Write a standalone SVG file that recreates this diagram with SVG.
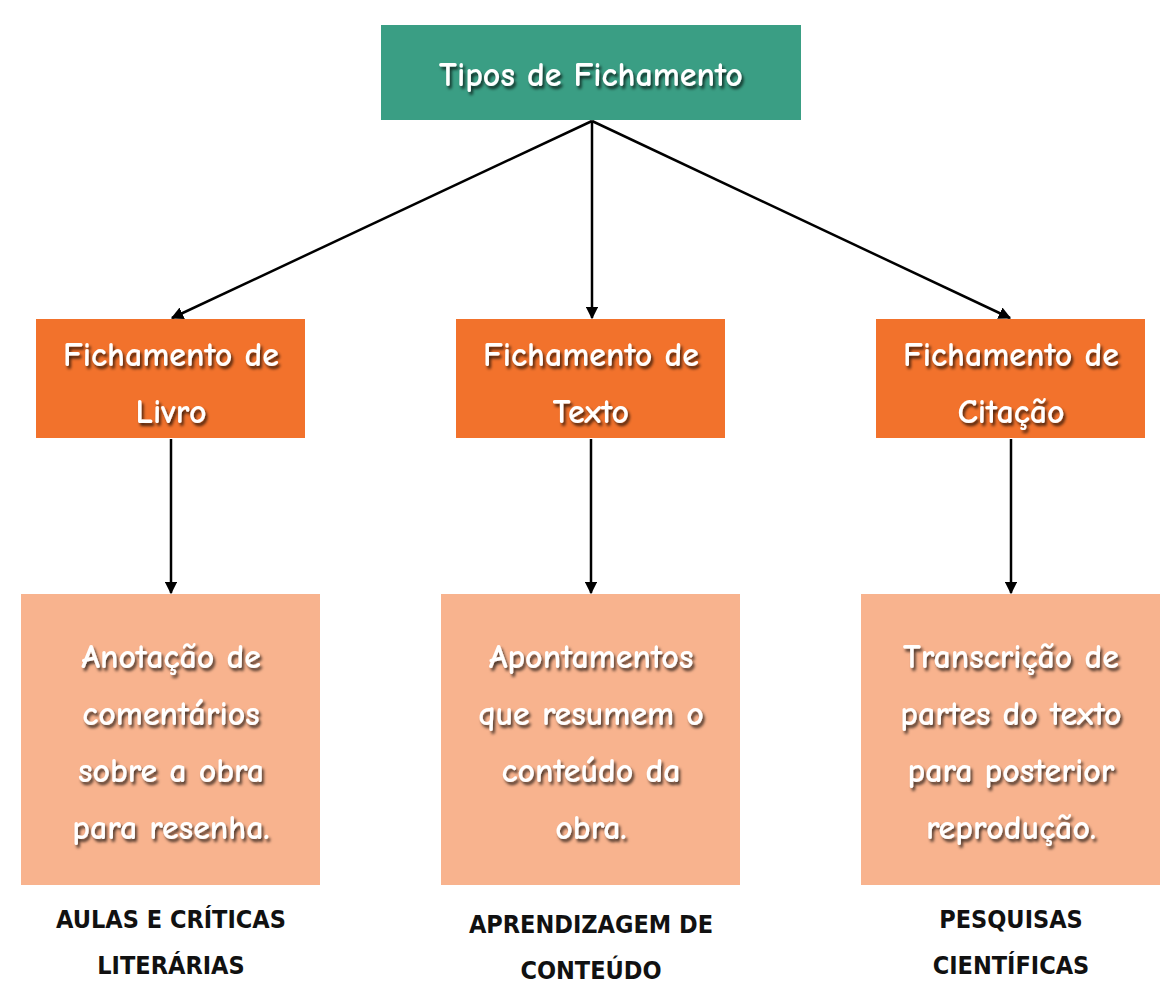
<svg xmlns="http://www.w3.org/2000/svg" width="1176" height="993" viewBox="0 0 1176 993">
<defs>
<filter id="sh" x="-10%" y="-10%" width="120%" height="130%"><feDropShadow dx="2" dy="3" stdDeviation="1.5" flood-color="#000" flood-opacity="0.7"/></filter>
<marker id="ar" viewBox="0 0 10 10" refX="9" refY="5" markerWidth="5" markerHeight="5" orient="auto"><path d="M0,0L10,5L0,10z" fill="#000"/></marker>
</defs>
<style>
.t{font-family:"Comic Neue","DejaVu Sans",sans-serif;font-weight:bold;fill:#fff;font-size:34px;text-anchor:middle;filter:url(#sh)}
.b{font-family:"DejaVu Sans",sans-serif;font-weight:bold;font-stretch:condensed;fill:#111;font-size:25px;text-anchor:middle;transform-box:fill-box}
.c{stroke:#000;stroke-width:2.5;fill:none;marker-end:url(#ar)}
</style>
<rect width="1176" height="993" fill="#fff"/>
<g id="connectors">
<line class="c" x1="592" y1="121" x2="172" y2="318"/>
<line class="c" x1="592" y1="121" x2="592" y2="318"/>
<line class="c" x1="592" y1="121" x2="1010" y2="318"/>
<line class="c" x1="171" y1="439" x2="171" y2="593"/>
<line class="c" x1="591" y1="439" x2="591" y2="593"/>
<line class="c" x1="1011" y1="439" x2="1011" y2="593"/>
</g>
<g id="root"><rect x="381" y="25" width="420" height="95" fill="#3a9e84"/><text class="t" x="591" y="86">Tipos de Fichamento</text></g>
<g id="livro"><rect x="36" y="319" width="269" height="119" fill="#f2722c"/><text class="t" x="171" y="366">Fichamento de</text><text class="t" x="171" y="423">Livro</text></g>
<g id="texto"><rect x="456" y="319" width="269" height="119" fill="#f2722c"/><text class="t" x="591" y="366">Fichamento de</text><text class="t" x="591" y="423">Texto</text></g>
<g id="citacao"><rect x="876" y="319" width="269" height="119" fill="#f2722c"/><text class="t" x="1011" y="366">Fichamento de</text><text class="t" x="1011" y="423">Citação</text></g>
<g id="d1"><rect x="21" y="594" width="299" height="291" fill="#f8b38e"/><text class="t" x="171" y="668">Anotação de</text><text class="t" x="171" y="725">comentários</text><text class="t" x="171" y="782">sobre a obra</text><text class="t" x="171" y="839">para resenha.</text></g>
<g id="d2"><rect x="441" y="594" width="299" height="291" fill="#f8b38e"/><text class="t" x="591" y="668">Apontamentos</text><text class="t" x="591" y="725">que resumem o</text><text class="t" x="591" y="782">conteúdo da</text><text class="t" x="591" y="839">obra.</text></g>
<g id="d3"><rect x="861" y="594" width="299" height="291" fill="#f8b38e"/><text class="t" x="1011" y="668">Transcrição de</text><text class="t" x="1011" y="725">partes do texto</text><text class="t" x="1011" y="782">para posterior</text><text class="t" x="1011" y="839">reprodução.</text></g>
<g id="l1"><text class="b" x="171" y="928">AULAS E CRÍTICAS</text><text class="b" x="171" y="974">LITERÁRIAS</text></g>
<g id="l2"><text class="b" x="591" y="933">APRENDIZAGEM DE</text><text class="b" x="591" y="979">CONTEÚDO</text></g>
<g id="l3"><text class="b" x="1011" y="928">PESQUISAS</text><text class="b" x="1011" y="974">CIENTÍFICAS</text></g>
</svg>
